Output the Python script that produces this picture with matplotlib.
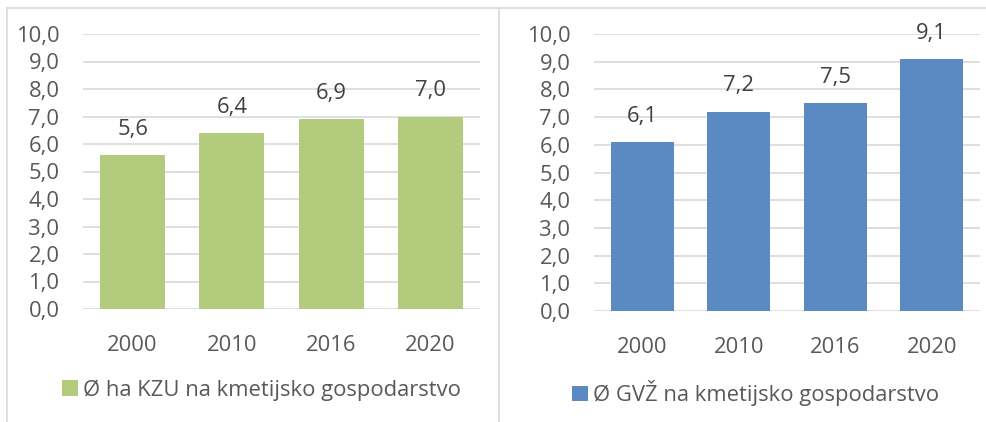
import matplotlib
matplotlib.use("Agg")
import matplotlib.pyplot as plt
from matplotlib.lines import Line2D
from matplotlib.patches import Patch

years = ["2000", "2010", "2016", "2020"]
kzu_values = [5.6, 6.4, 6.9, 7.0]
gvz_values = [6.1, 7.2, 7.5, 9.1]
kzu_label = "Ø ha KZU na kmetijsko gospodarstvo"
gvz_label = "Ø GVŽ na kmetijsko gospodarstvo"
y_ticks = [0, 1, 2, 3, 4, 5, 6, 7, 8, 9, 10]

GREEN = "#B3CB7D"
BLUE = "#5B8AC3"
GRID = "#D9D9D9"
TXT = "#595959"
LBL = "#404040"

plt.rcParams['font.family'] = ['Open Sans', 'DejaVu Sans']
FS = 15.8

fig = plt.figure(figsize=(9.87, 4.22), dpi=100)
W, H = 987, 422

def fmt(v):
    return f"{v:.1f}".replace('.', ',')

def make_panel(rect, values, color, label, leg_center):
    ax = fig.add_axes(rect)
    x = list(range(len(years)))
    ax.bar(x, values, width=0.655, color=color, zorder=3)
    ax.set_xlim(-0.5, len(years) - 0.5)
    ax.set_ylim(0, 10)
    ax.set_yticks(y_ticks)
    ax.set_yticklabels([fmt(v) for v in y_ticks])
    ax.set_xticks(x)
    ax.set_xticklabels(years)
    ax.tick_params(axis='both', length=0, labelsize=FS, labelcolor=TXT)
    ax.tick_params(axis='y', pad=17)
    ax.tick_params(axis='x', pad=19)
    for s in ax.spines.values():
        s.set_visible(False)
    ax.grid(axis='y', color=GRID, linewidth=1.2, zorder=0)
    ax.set_axisbelow(True)
    for xi, v in zip(x, values):
        ax.annotate(fmt(v), (xi, v), xytext=(0, 11), textcoords='offset points',
                    ha='center', va='bottom', fontsize=FS, color=LBL)
    handle = Patch(facecolor=color, edgecolor='none')
    fig.legend([handle], [label], loc='center', bbox_to_anchor=leg_center,
               bbox_transform=fig.transFigure, frameon=False, fontsize=FS,
               labelcolor=TXT, handlelength=0.72, handleheight=0.72,
               handletextpad=0.2)
    return ax

make_panel([83 / W, (H - 309) / H, 397 / W, 275 / H], kzu_values, GREEN, kzu_label,
           (261.5 / W, (H - 390) / H))
make_panel([594 / W, (H - 311) / H, 386 / W, 277 / H], gvz_values, BLUE, gvz_label,
           (755.5 / W, (H - 393) / H))

# panel frames
fig.add_artist(Line2D([7 / W, 1], [1 - 8 / H, 1 - 8 / H], transform=fig.transFigure,
                      color=GRID, linewidth=1.2))
fig.add_artist(Line2D([7 / W, 7 / W], [0, 1 - 8 / H], transform=fig.transFigure,
                      color=GRID, linewidth=1.2))
fig.add_artist(Line2D([499 / W, 499 / W], [0, 1 - 8 / H], transform=fig.transFigure,
                      color=GRID, linewidth=1.2))

fig.savefig("out.png", dpi=100)
